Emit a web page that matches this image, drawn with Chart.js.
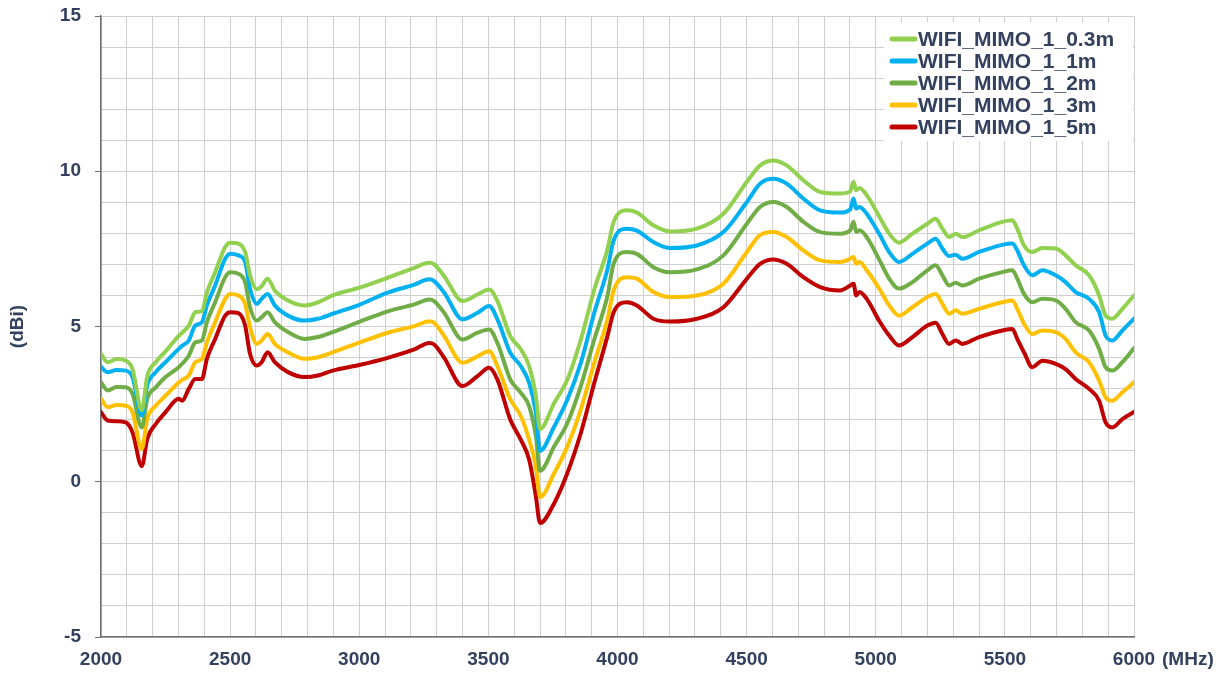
<!DOCTYPE html>
<html>
<head>
<meta charset="utf-8">
<script src="https://cdn.jsdelivr.net/npm/chart.js@4.4.1/dist/chart.umd.min.js"></script>
<style>
  html, body { margin: 0; padding: 0; background: #ffffff; }
  #wrap { width: 1227px; height: 677px; position: relative; }
</style>
</head>
<body>
<div id="wrap"><canvas id="c" width="1227" height="677"></canvas></div>
<script>
// Frequencies (MHz)
const freq = [2000, 2026, 2060, 2096, 2122, 2158, 2179, 2212, 2250, 2301, 2314, 2340, 2365, 2391, 2410, 2442, 2481, 2500, 2532, 2558,
  2577, 2603, 2622, 2645, 2673, 2724, 2788, 2840, 2897, 3000, 3110, 3213, 3271, 3290, 3329, 3400, 3458, 3503, 3535, 3585,
  3626, 3658, 3684, 3700, 3755, 3806, 3858, 3910, 3961, 3985, 4036, 4075, 4139, 4204, 4307, 4410, 4501, 4552, 4604, 4655,
  4720, 4785, 4862, 4901, 4914, 4924, 4937, 4965, 5015, 5052, 5090, 5142, 5200, 5232, 5258, 5284, 5310, 5335, 5400, 5490,
  5529, 5548, 5574, 5606, 5645, 5697, 5735, 5774, 5826, 5865, 5890, 5916, 5955, 6000];

const labels = ['WIFI_MIMO_1_0.3m', 'WIFI_MIMO_1_1m', 'WIFI_MIMO_1_2m', 'WIFI_MIMO_1_3m', 'WIFI_MIMO_1_5m'];

const gain03m = [4.12, 3.85, 3.95, 3.90, 3.63, 2.30, 3.40, 3.85, 4.20, 4.70, 4.80, 5.03, 5.46, 5.50, 6.10, 6.75, 7.56, 7.70, 7.67, 7.40,
  6.65, 6.20, 6.30, 6.54, 6.16, 5.84, 5.68, 5.78, 6.00, 6.25, 6.57, 6.89, 7.05, 7.00, 6.62, 5.82, 6.03, 6.19, 5.82, 4.69,
  4.26, 3.72, 2.75, 1.70, 2.54, 3.29, 4.58, 6.19, 7.48, 8.37, 8.74, 8.67, 8.26, 8.06, 8.15, 8.63, 9.66, 10.19, 10.35, 10.19,
  9.71, 9.33, 9.28, 9.35, 9.66, 9.39, 9.46, 9.23, 8.52, 7.99, 7.70, 7.99, 8.31, 8.47, 8.15, 7.88, 7.99, 7.88, 8.10, 8.37,
  8.42, 8.15, 7.61, 7.40, 7.53, 7.51, 7.29, 6.97, 6.65, 6.00, 5.35, 5.25, 5.57, 6.00];

const gain1m = [3.70, 3.53, 3.60, 3.58, 3.37, 2.13, 3.10, 3.53, 3.85, 4.28, 4.38, 4.55, 5.03, 5.14, 5.68, 6.32, 7.18, 7.34, 7.29, 7.08,
  6.22, 5.73, 5.89, 6.05, 5.68, 5.35, 5.19, 5.25, 5.41, 5.70, 6.09, 6.35, 6.52, 6.46, 6.09, 5.23, 5.44, 5.66, 5.23, 4.15,
  3.72, 3.18, 2.22, 1.00, 1.78, 2.65, 3.83, 5.44, 6.84, 7.77, 8.15, 8.09, 7.72, 7.53, 7.61, 8.04, 9.01, 9.60, 9.76, 9.60,
  9.12, 8.74, 8.67, 8.77, 9.12, 8.80, 8.85, 8.63, 7.96, 7.40, 7.08, 7.34, 7.67, 7.83, 7.51, 7.27, 7.31, 7.18, 7.40, 7.63,
  7.67, 7.45, 6.97, 6.65, 6.81, 6.65, 6.43, 6.11, 5.89, 5.46, 4.71, 4.55, 4.87, 5.25];

const gain2m = [3.20, 2.94, 3.05, 3.04, 2.83, 1.75, 2.67, 3.04, 3.37, 3.69, 3.80, 4.06, 4.49, 4.55, 5.14, 5.78, 6.59, 6.75, 6.70, 6.43,
  5.62, 5.19, 5.30, 5.46, 5.14, 4.82, 4.60, 4.66, 4.82, 5.15, 5.49, 5.71, 5.87, 5.82, 5.44, 4.58, 4.80, 4.90, 4.47, 3.29,
  2.86, 2.43, 1.46, 0.35, 1.14, 1.89, 3.08, 4.58, 5.98, 7.02, 7.40, 7.34, 6.91, 6.75, 6.84, 7.29, 8.31, 8.85, 9.01, 8.85,
  8.37, 8.04, 7.99, 8.10, 8.37, 8.04, 8.10, 7.88, 7.13, 6.54, 6.22, 6.43, 6.81, 6.97, 6.65, 6.32, 6.41, 6.32, 6.54, 6.75,
  6.81, 6.54, 6.05, 5.78, 5.89, 5.84, 5.57, 5.14, 4.87, 4.28, 3.69, 3.58, 3.85, 4.30];

const gain3m = [2.67, 2.40, 2.47, 2.45, 2.24, 1.05, 2.02, 2.45, 2.77, 3.20, 3.28, 3.42, 3.85, 3.96, 4.49, 5.14, 5.89, 6.05, 6.00, 5.73,
  4.98, 4.44, 4.55, 4.76, 4.44, 4.17, 3.96, 4.01, 4.17, 4.48, 4.80, 5.01, 5.17, 5.12, 4.69, 3.83, 4.04, 4.20, 3.72, 2.65,
  2.11, 1.35, 0.49, -0.50, 0.28, 1.14, 2.33, 3.83, 5.23, 6.16, 6.59, 6.54, 6.11, 5.95, 6.00, 6.38, 7.40, 7.94, 8.04, 7.88,
  7.45, 7.13, 7.08, 7.18, 7.24, 7.02, 7.08, 6.81, 6.20, 5.68, 5.35, 5.62, 5.95, 6.05, 5.73, 5.41, 5.52, 5.41, 5.57, 5.78,
  5.84, 5.57, 5.09, 4.76, 4.87, 4.82, 4.60, 4.17, 3.85, 3.26, 2.72, 2.61, 2.88, 3.20];

const gain5m = [2.24, 1.97, 1.95, 1.91, 1.59, 0.50, 1.38, 1.86, 2.24, 2.67, 2.61, 2.99, 3.31, 3.31, 3.96, 4.60, 5.35, 5.46, 5.43, 5.03,
  4.12, 3.74, 3.85, 4.17, 3.85, 3.53, 3.37, 3.42, 3.58, 3.76, 3.99, 4.26, 4.47, 4.42, 3.99, 3.08, 3.40, 3.67, 3.29, 2.00,
  1.35, 0.71, -0.47, -1.33, -0.69, 0.28, 1.57, 3.18, 4.69, 5.46, 5.78, 5.68, 5.25, 5.16, 5.25, 5.62, 6.54, 7.02, 7.16, 7.02,
  6.59, 6.27, 6.16, 6.32, 6.38, 6.00, 6.11, 5.89, 5.16, 4.71, 4.39, 4.66, 5.03, 5.12, 4.76, 4.44, 4.55, 4.44, 4.66, 4.87,
  4.92, 4.60, 4.17, 3.69, 3.90, 3.80, 3.63, 3.31, 2.99, 2.61, 1.91, 1.75, 2.02, 2.25];

const seriesValues = [gain03m, gain1m, gain2m, gain3m, gain5m];
const seriesColors = ['#92D050', '#00B0F0', '#70AD47', '#FFC000', '#C00000'];

const textColor = '#33415f';
const fontFam = '"Liberation Sans", Arial, sans-serif';

const datasets = seriesValues.map((vals, k) => ({
  label: labels[k],
  data: freq.map((f, i) => ({ x: f, y: vals[i] })),
  borderColor: seriesColors[k],
  backgroundColor: seriesColors[k],
  borderWidth: 4,
  pointRadius: 0,
  fill: false,
  cubicInterpolationMode: 'monotone',
  borderCapStyle: 'round',
  borderJoinStyle: 'round'
}));

const legendPlugin = {
  id: 'customLegend',
  afterDraw(chart) {
    const ctx = chart.ctx;
    const area = chart.chartArea;
    ctx.save();
    const boxLeft = 884, boxTop = 22, boxRight = area.right - 1, boxBottom = 141;
    ctx.fillStyle = '#ffffff';
    ctx.fillRect(boxLeft, boxTop, boxRight - boxLeft, boxBottom - boxTop);
    ctx.font = 'bold 21px ' + fontFam;
    ctx.textBaseline = 'middle';
    ctx.textAlign = 'left';
    chart.data.datasets.forEach((ds, i) => {
      const y = 39 + i * 22;
      ctx.strokeStyle = ds.borderColor;
      ctx.lineWidth = 5;
      ctx.lineCap = 'round';
      ctx.beginPath();
      ctx.moveTo(892, y);
      ctx.lineTo(915, y);
      ctx.stroke();
      ctx.fillStyle = textColor;
      ctx.fillText(ds.label, 918, y + 1);
    });
    // unit after the last x tick label
    ctx.font = 'bold 19px ' + fontFam;
    ctx.fillStyle = textColor;
    ctx.textBaseline = 'middle';
    ctx.fillText('(MHz)', 1162, 660);
    ctx.restore();
  }
};

new Chart(document.getElementById('c'), {
  type: 'line',
  data: { datasets },
  plugins: [legendPlugin],
  options: {
    responsive: false,
    animation: false,
    layout: { padding: { top: 16, right: 93, bottom: 0, left: 0 } },
    plugins: { legend: { display: false }, tooltip: { enabled: false } },
    scales: {
      x: {
        type: 'linear',
        min: 2000, max: 6000,
        afterFit(s) { s.height = 40; s.paddingLeft = 0; s.paddingRight = 0; },
        ticks: {
          stepSize: 100,
          autoSkip: false,
          maxRotation: 0,
          padding: 11,
          color: textColor,
          font: { family: fontFam, size: 19, weight: 'bold' },
          callback: v => (v % 500 === 0 ? String(v) : '')
        },
        grid: { color: '#cfcfcf', lineWidth: 1, drawTicks: false },
        border: { color: '#6f6f6f', width: 1.5 }
      },
      y: {
        type: 'linear',
        min: -5, max: 15,
        afterFit(s) { s.width = 101; s.paddingTop = 0; s.paddingBottom = 0; },
        ticks: {
          stepSize: 1,
          autoSkip: false,
          padding: 14,
          color: textColor,
          font: { family: fontFam, size: 19, weight: 'bold' },
          callback: v => (v % 5 === 0 ? String(v) : '')
        },
        grid: {
          color: '#cfcfcf', lineWidth: 1, drawTicks: true, tickLength: 6,
          tickColor: ctx => (ctx.tick && ctx.tick.value % 5 === 0 ? '#6f6f6f' : 'rgba(0,0,0,0)')
        },
        border: { color: '#6f6f6f', width: 1.5 },
        title: {
          display: true,
          text: '(dBi)',
          color: textColor,
          font: { family: fontFam, size: 19, weight: 'bold' },
          padding: { top: 6, bottom: 0 }
        }
      }
    }
  }
});
</script>
</body>
</html>
